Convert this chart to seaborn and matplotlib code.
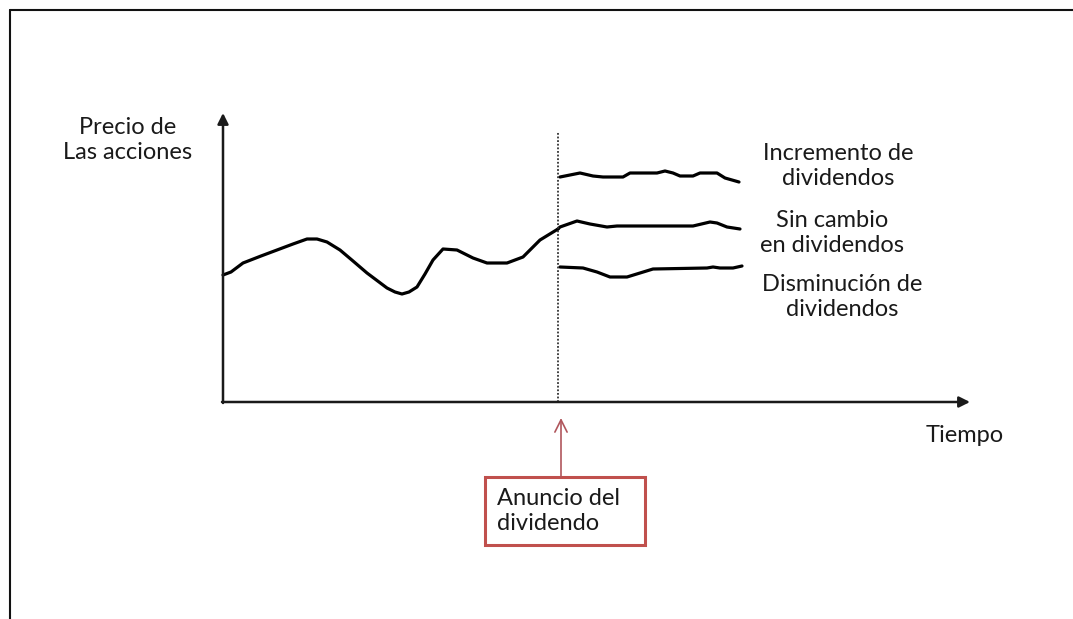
"""
Dividend announcement effect on share price - schematic line chart.
"""
import numpy as np
import pandas as pd
import matplotlib
matplotlib.use('Agg')
import matplotlib.pyplot as plt
import seaborn as sns
from matplotlib.lines import Line2D
from matplotlib.patches import Rectangle

# price path before the announcement (time, price)
pre_t = [0, 8, 20, 38, 54, 70, 84, 94, 104, 117, 130, 144, 164, 172, 179, 186, 194, 202,
         210, 220, 234, 250, 264, 284, 300, 317, 335]
pre_p = [127, 130, 139, 146, 152, 158, 163, 163, 160, 152, 141, 129, 114, 110, 108, 110, 115, 128,
         142, 153, 152, 144, 139, 139, 145, 162, 173]

# after the announcement: three scenarios
inc_t = [337, 357, 370, 380, 400, 407, 434, 442, 450, 457, 470, 477, 494, 502, 509, 516]
inc_p = [225, 229, 226, 225, 225, 229, 229, 231, 229, 226, 226, 229, 229, 224, 222, 220]

same_t = [335, 337, 354, 367, 384, 394, 470, 487, 494, 504, 517]
same_p = [173, 175, 181, 178, 175, 176, 176, 180, 179, 175, 173]

dec_t = [337, 360, 374, 387, 404, 417, 430, 484, 490, 497, 510, 519]
dec_p = [135, 134, 130, 125, 125, 129, 133, 134, 135, 134, 134, 136]

ANNOUNCE_T = 335
LABELS = ['Incremento de\ndividendos', 'Sin cambio\nen dividendos', 'Disminución de\ndividendos']

sns.set_theme(style='white')
plt.rcParams['font.family'] = ['Lato', 'DejaVu Sans']

df = pd.concat([
    pd.DataFrame({'t': pre_t, 'p': pre_p, 'serie': 'antes'}),
    pd.DataFrame({'t': inc_t, 'p': inc_p, 'serie': 'incremento'}),
    pd.DataFrame({'t': same_t, 'p': same_p, 'serie': 'sin cambio'}),
    pd.DataFrame({'t': dec_t, 'p': dec_p, 'serie': 'disminucion'}),
])

fig = plt.figure(figsize=(10.73, 6.19), dpi=100)
ax = fig.add_axes([0, 0, 1, 1])
ax.set_xlim(-223, 1073 - 223)
ax.set_ylim(-(619 - 402), 402)
ax.axis('off')

sns.lineplot(data=df, x='t', y='p', units='serie', estimator=None, sort=False,
             color='black', linewidth=2.3, ax=ax, legend=False)

# axes with arrow heads
axis_kw = dict(arrowstyle='-|>', lw=1.8, color='#1a1a1a', mutation_scale=16,
               shrinkA=0, shrinkB=0)
ax.annotate('', xy=(0, 289), xytext=(0, -1), arrowprops=axis_kw)
ax.annotate('', xy=(747, 0), xytext=(-1, 0), arrowprops=axis_kw)

# announcement marker
ax.plot([ANNOUNCE_T, ANNOUNCE_T], [0, 270], color='#333333', lw=1.3, ls=(0, (1, 1)))
ax.annotate('', xy=(ANNOUNCE_T + 3, -16), xytext=(ANNOUNCE_T + 3, -75),
            arrowprops=dict(arrowstyle='->', lw=1.2, color='#b0565c',
                            mutation_scale=22, shrinkA=0, shrinkB=0))
ax.add_patch(Rectangle((262, -143), 160, 68, fill=False, edgecolor='#c0504d', lw=2.2))
ax.text(274, -109, 'Anuncio del\ndividendo', ha='left', va='center',
        fontsize=17, color='#1a1a1a', linespacing=1.2)

# labels
ax.text(-95, 262, 'Precio de\nLas acciones', ha='center', va='center',
        fontsize=17, color='#1a1a1a', linespacing=1.2)
ax.text(742, -33, 'Tiempo', ha='center', va='center', fontsize=17, color='#1a1a1a')
for lab, x, y in zip(LABELS, [615, 609, 619], [236, 169, 105]):
    ax.text(x, y, lab, ha='center', va='center', fontsize=17, color='#1a1a1a',
            linespacing=1.2)

# outer frame (left and top only)
fig.add_artist(Line2D([10 / 1073, 10 / 1073], [0, 1 - 10 / 619], transform=fig.transFigure,
                      color='#111111', lw=1.5))
fig.add_artist(Line2D([10 / 1073, 1], [1 - 10 / 619, 1 - 10 / 619], transform=fig.transFigure,
                      color='#111111', lw=1.5))

fig.savefig('out.png', dpi=100)
